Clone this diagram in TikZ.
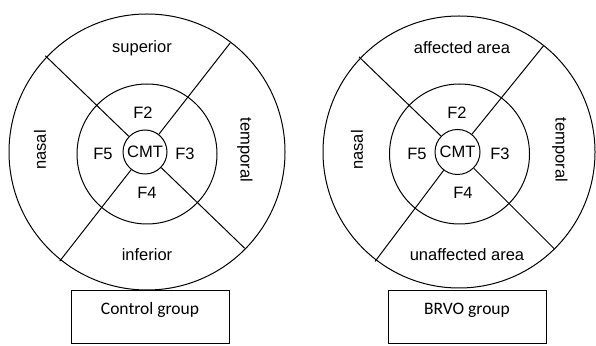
\documentclass[tikz,border=0pt]{standalone}
\usepackage{fontspec}
\setmainfont{Liberation Sans}
\newfontfamily\boxfont{Carlito}
\tikzset{
  ring/.style={line width=1pt},
  ray/.style={line width=1pt},
  zone/.style={font=\fontsize{16.5}{19}\selectfont, inner sep=1pt},
  grpbox/.style={draw, line width=.9pt, minimum width=158pt, minimum height=53pt},
  grptext/.style={font=\boxfont\fontsize{17.5}{20}\selectfont}
}
\begin{document}
\begin{tikzpicture}[x=1pt,y=1pt]
\useasboundingbox (0,0) rectangle (596,345);
% control group chart
\draw[ring] (147,193) circle (138);
\draw[ring] (147,191) circle (70);
\node[ring, draw, circle, minimum size=44pt, inner sep=0pt, zone] (cmtL) at (145,193) {CMT};
\draw[ray] (cmtL.136) -- ++(136:116);
\draw[ray] (cmtL.52) -- ++(52:116);
\draw[ray] (cmtL.232) -- ++(232:116);
\draw[ray] (cmtL.-44) -- ++(-44:116);
\node[zone] (supL) at (142,297) {superior};
\node[zone] (infL) at (147,90) {inferior};
\node[zone, rotate=90] (nasL) at (40,195) {nasal};
\node[zone, rotate=-90] (tmpL) at (245,195) {temporal};
\node[zone] (f2L) at (143,232) {F2};
\node[zone] (f5L) at (103,191) {F5};
\node[zone] (f3L) at (185,191) {F3};
\node[zone] (f4L) at (147,152) {F4};
\node[grpbox] (ctrl) at (150,28.5) {};
\node[grptext] (ctrltxt) at (150,35) {Control group};

% BRVO group chart
\draw[ring] (459,193) circle (136);
\draw[ring] (459.5,191) circle (70);
\node[ring, draw, circle, minimum size=45pt, inner sep=0pt, zone] (cmtR) at (457.5,193) {CMT};
\draw[ray] (cmtR.136) -- ++(136:114);
\draw[ray] (cmtR.51) -- ++(51:114);
\draw[ray] (cmtR.233) -- ++(233:114);
\draw[ray] (cmtR.-45) -- ++(-45:114);
\node[zone] (supR) at (462,297) {affected area};
\node[zone] (infR) at (467,90) {unaffected area};
\node[zone, rotate=90] (nasR) at (357,195) {nasal};
\node[zone, rotate=-90] (tmpR) at (560,195) {temporal};
\node[zone] (f2R) at (457,232) {F2};
\node[zone] (f5R) at (417,191) {F5};
\node[zone] (f3R) at (500,191) {F3};
\node[zone] (f4R) at (463,152) {F4};
\node[grpbox] (brvo) at (467,28.5) {};
\node[grptext] (brvotxt) at (467,35) {BRVO group};
\end{tikzpicture}
\end{document}
